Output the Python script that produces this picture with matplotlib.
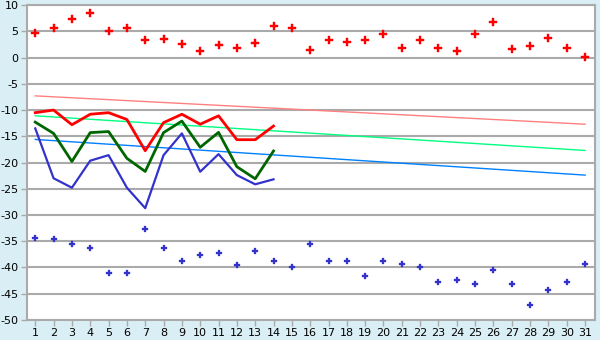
import numpy as np
import matplotlib.pyplot as plt

days = list(range(1, 32))
line_days = list(range(1, 15))

red_points = [4.6, 5.6, 7.3, 8.4, 5.0, 5.6, 3.3, 3.5, 2.5, 1.2, 2.4, 1.75, 2.7, 6.0, 5.6,
              1.4, 3.3, 2.9, 3.3, 4.4, 1.75, 3.3, 1.75, 1.2, 4.4, 6.7, 1.6, 2.3, 3.8, 1.75, 0.2]
blue_points = [-34.4, -34.6, -35.6, -36.2, -41.1, -41.1, -32.7, -36.2, -38.8, -37.7, -37.3,
               -39.6, -36.9, -38.8, -40.0, -35.6, -38.8, -38.8, -41.7, -38.8, -39.4, -40.0,
               -42.8, -42.3, -43.2, -40.5, -43.2, -47.2, -44.3, -42.8, -39.4]

red_line = [-10.5, -10.0, -12.8, -10.8, -10.5, -11.8, -17.75, -12.4, -10.8, -12.7, -11.1,
            -15.65, -15.65, -13.05]
green_line = [-12.3, -14.45, -19.8, -14.3, -14.1, -19.2, -21.7, -14.3, -12.1, -17.1, -14.25,
              -20.8, -23.1, -17.8]
blue_line = [-13.5, -23.0, -24.8, -19.65, -18.6, -24.8, -28.7, -18.6, -14.45, -21.75, -18.4,
             -22.4, -24.15, -23.2]

# trend lines: value at day 1 and day 31
trend_days = [1, 31]
trend_pink = [-7.3, -12.7]
trend_green = [-11.1, -17.7]
trend_blue = [-15.6, -22.4]

bg = '#d9eff5'
plt.rcParams['axes.unicode_minus'] = False
fig = plt.figure(figsize=(6, 3.4), dpi=100, facecolor=bg)
ax = fig.add_axes([0.045, 0.059, 0.947, 0.926])
ax.set_facecolor('white')

ax.plot(trend_days, trend_pink, color='#ff8080', lw=1)
ax.plot(trend_days, trend_green, color='#00ff80', lw=1)
ax.plot(trend_days, trend_blue, color='#0080ff', lw=1)

ax.plot(line_days, red_line, color='#ff0000', lw=2)
ax.plot(line_days, green_line, color='#006600', lw=2)
ax.plot(line_days, blue_line, color='#3333cc', lw=1.6)

ax.plot(days, red_points, 'P', color='#ff0000', ms=5.2, mew=0.3, ls='none')
ax.plot(days, blue_points, 'P', color='#3333cc', ms=4.6, mew=0.2, ls='none')

ax.set_xlim(0.55, 31.55)
ax.set_ylim(-50, 10)
ax.set_xticks(days)
ax.set_yticks(np.arange(-50, 11, 5))
ax.grid(axis='y', color='#aaaaaa', lw=1.5)
ax.set_axisbelow(True)
for s in ax.spines.values():
    s.set_color('#aaaaaa')
    s.set_linewidth(1.5)
ax.tick_params(colors='#aaaaaa', labelcolor='black', labelsize=8, length=4, width=1, pad=2)

fig.savefig('out.png', facecolor=bg)
